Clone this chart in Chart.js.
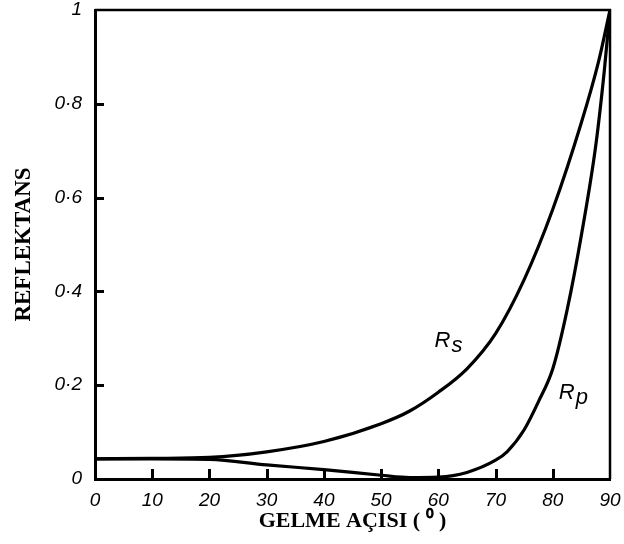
<!DOCTYPE html>
<html>
<head>
<meta charset="utf-8">
<script src="https://cdn.jsdelivr.net/npm/chart.js@4/dist/chart.umd.min.js"></script>
<style>
  html, body { margin: 0; padding: 0; background: #fff; }
  #wrap { width: 624px; height: 544px; }
</style>
</head>
<body>
<div id="wrap"><canvas id="chart"></canvas></div>
<script>
// angle of incidence (degrees) and reflectance
const rsAngles = [0, 10, 20, 30, 40, 50, 55, 60, 65, 70, 75, 80, 85, 88, 90];
const rsValues = [0.043, 0.044, 0.046, 0.058, 0.080, 0.118, 0.145, 0.185, 0.235, 0.31, 0.425, 0.575, 0.76, 0.89, 1.0];

const rpAngles = [0, 10, 20, 30, 40, 50, 55, 60, 65, 70, 72, 75, 77.5, 80, 82.5, 85, 87.5, 89, 90];
const rpValues = [0.043, 0.043, 0.042, 0.030, 0.020, 0.008, 0.003, 0.004, 0.014, 0.040, 0.058, 0.105, 0.165, 0.235, 0.36, 0.52, 0.71, 0.87, 1.0];

const xTicks = [0, 10, 20, 30, 40, 50, 60, 70, 80, 90];
const yTicks = [0, 0.2, 0.4, 0.6, 0.8, 1];

// curve labels: [text, angle, reflectance]
const curveLabels = [
    ['Rs', 61.7, 0.29],
    ['Rp', 83.5, 0.18]
];

function toPoints(xs, ys) {
    return xs.map((x, i) => ({ x: x, y: ys[i] }));
}

function yLabel(v) {
    if (v === 0 || v === 1) return String(v);
    return v.toFixed(1).replace('.', '·');
}

// frame round the plot area plus the inward tick marks
const framePlugin = {
    id: 'frame',
    afterDraw(chart) {
        const a = chart.chartArea;
        const ctx = chart.ctx;
        const xs = chart.scales.x, ys = chart.scales.y;
        ctx.save();
        ctx.strokeStyle = '#000';
        ctx.lineWidth = 2.5;
        ctx.beginPath();
        ctx.moveTo(a.left, a.top);
        ctx.lineTo(a.right, a.top);
        ctx.lineTo(a.right, a.bottom);
        ctx.stroke();

        ctx.fillStyle = '#000';
        for (const v of xTicks) {
            if (v <= 0 || v >= 90) continue;
            const px = Math.round(xs.getPixelForValue(v));
            ctx.fillRect(px - 1, a.bottom - 10, 3, 10);
        }
        for (const v of yTicks) {
            if (v <= 0 || v >= 1) continue;
            const py = Math.round(ys.getPixelForValue(v));
            ctx.fillRect(a.left, py - 1, 9, 3);
        }
        ctx.restore();
    }
};

const labelPlugin = {
    id: 'curveLabels',
    afterDatasetsDraw(chart) {
        const ctx = chart.ctx;
        const xs = chart.scales.x, ys = chart.scales.y;
        ctx.save();
        ctx.fillStyle = '#000';
        ctx.textBaseline = 'middle';
        ctx.textAlign = 'left';
        ctx.font = 'italic 22px "Liberation Sans"';
        curveLabels.forEach(l => {
            const px = xs.getPixelForValue(l[1]);
            const py = ys.getPixelForValue(l[2]);
            const w1 = ctx.measureText(l[0][0]).width;
            const w2 = ctx.measureText(l[0].slice(1)).width;
            const x0 = px - (w1 + w2) / 2;
            ctx.fillText(l[0][0], x0, py - 2);
            ctx.fillText(l[0].slice(1), x0 + w1 + 1, py + 3);
        });
        ctx.restore();
    }
};

function noPad(s) {
    s.paddingTop = 0;
    s.paddingBottom = 0;
    s.paddingLeft = 0;
    s.paddingRight = 0;
}

const ctx = document.getElementById('chart').getContext('2d');
new Chart(ctx, {
    type: 'line',
    data: {
        datasets: [{
            label: 'Rs',
            data: toPoints(rsAngles, rsValues),
            borderColor: '#000',
            borderWidth: 3.2,
            pointRadius: 0,
            cubicInterpolationMode: 'monotone'
        }, {
            label: 'Rp',
            data: toPoints(rpAngles, rpValues),
            borderColor: '#000',
            borderWidth: 3.2,
            pointRadius: 0,
            cubicInterpolationMode: 'monotone'
        }]
    },
    options: {
        responsive: true,
        maintainAspectRatio: false,
        animation: false,
        layout: { padding: { top: 10, right: 14, left: 0, bottom: 0 } },
        plugins: {
            legend: { display: false },
            tooltip: { enabled: false }
        },
        scales: {
            x: {
                type: 'linear',
                min: 0,
                max: 90,
                afterBuildTicks: (s) => { s.ticks = xTicks.map(v => ({ value: v })); },
                afterFit: (s) => { s.height = 65; noPad(s); },
                grid: { drawOnChartArea: false, drawTicks: false },
                border: { display: true, color: '#000', width: 3 },
                ticks: {
                    color: '#000',
                    padding: 10,
                    maxRotation: 0,
                    font: { family: '"Liberation Sans"', size: 19, style: 'italic' }
                },
                title: {
                    display: true,
                    text: 'GELME AÇISI ( ⁰ )',
                    color: '#000',
                    padding: { top: 0, bottom: 9 },
                    font: { family: '"Liberation Serif"', size: 22, weight: 'bold' }
                }
            },
            y: {
                type: 'linear',
                min: 0,
                max: 1,
                afterBuildTicks: (s) => { s.ticks = yTicks.map(v => ({ value: v })); },
                afterFit: (s) => { s.width = 95; noPad(s); },
                grid: { drawOnChartArea: false, drawTicks: false },
                border: { display: true, color: '#000', width: 3 },
                ticks: {
                    color: '#000',
                    padding: 13,
                    callback: (v) => yLabel(v),
                    font: { family: '"Liberation Sans"', size: 19, style: 'italic' }
                },
                title: {
                    display: true,
                    text: 'REFLEKTANS',
                    color: '#000',
                    padding: { top: 10, bottom: 0 },
                    font: { family: '"Liberation Serif"', size: 23, weight: 'bold' }
                }
            }
        }
    },
    plugins: [framePlugin, labelPlugin]
});
</script>
</body>
</html>
